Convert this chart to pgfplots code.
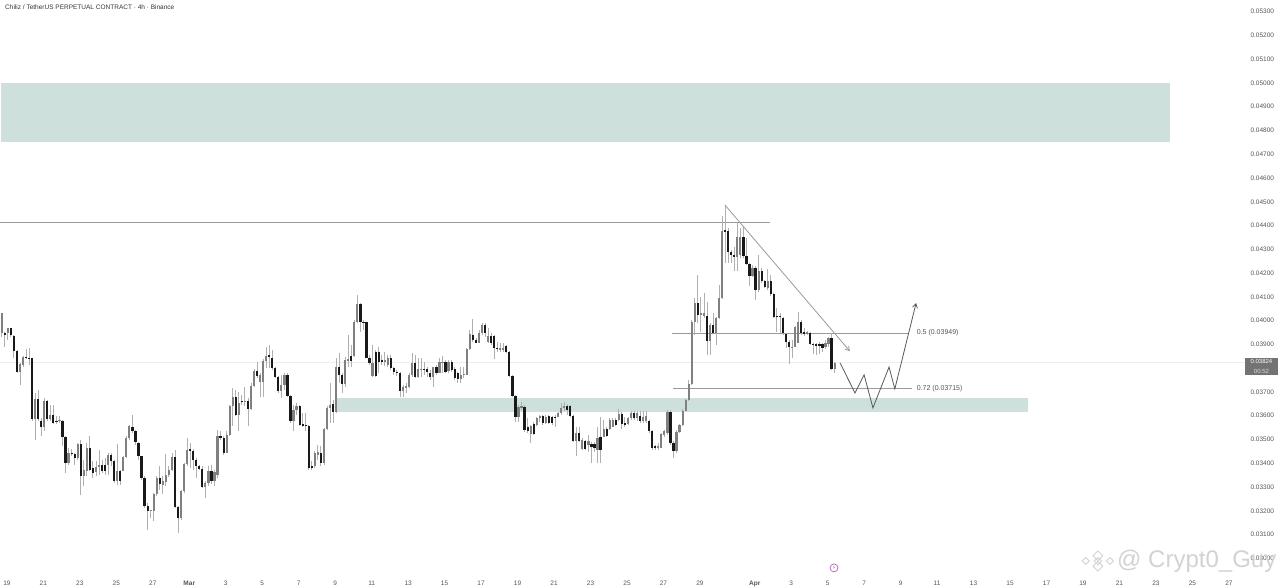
\documentclass[border=0pt]{standalone}
\usepackage{fontspec}
\setmainfont{Liberation Sans}
\newfontfamily\symf{DejaVu Sans}
\usepackage{pgfplots}
\usepackage{pgfplotstable}
\pgfplotsset{compat=1.18}
\usetikzlibrary{arrows.meta}
% candle index, body top, body bottom, high, low (prices x 100000)
\pgfplotstableread{
n t b h l
0 4031 3947 4031 3933
2 3968 3947 3971 3919
6 3818 3786 3821 3730
7 3849 3814 3852 3807
11 3671 3586 3695 3499
14 3660 3551 3674 3534
16 3604 3586 3646 3576
19 3583 3576 3600 3569
22 3443 3401 3464 3394
25 3481 3422 3485 3415
27 3373 3348 3415 3303
28 3464 3369 3485 3345
31 3383 3362 3408 3345
32 3394 3383 3454 3352
35 3436 3394 3443 3352
38 3366 3324 3481 3310
40 3425 3366 3429 3366
41 3506 3425 3513 3422
42 3555 3506 3562 3499
49 3202 3198 3205 3170
50 3272 3198 3275 3156
51 3338 3272 3345 3261
53 3324 3310 3345 3272
54 3349 3321 3439 3303
55 3373 3349 3387 3342
56 3425 3373 3443 3366
59 3285 3170 3289 3163
60 3397 3285 3401 3275
61 3457 3397 3506 3387
67 3317 3300 3324 3254
68 3366 3317 3387 3303
70 3362 3324 3373 3303
71 3513 3352 3541 3338
74 3517 3443 3534 3443
75 3639 3517 3646 3513
76 3681 3639 3716 3555
78 3653 3604 3702 3534
80 3664 3656 3723 3639
82 3727 3629 3737 3625
83 3790 3727 3796 3723
85 3772 3744 3779 3681
86 3832 3744 3838 3681
87 3853 3832 3891 3800
92 3730 3705 3772 3674
93 3772 3730 3779 3709
96 3625 3576 3646 3534
97 3639 3625 3653 3604
103 3443 3387 3450 3380
104 3446 3436 3478 3415
106 3544 3401 3548 3394
107 3632 3544 3639 3541
108 3646 3632 3737 3569
110 3807 3614 3842 3611
113 3835 3733 3849 3723
114 3839 3832 3940 3807
116 3993 3853 4003 3849
117 4070 3993 4108 3989
122 3821 3768 3898 3762
126 3835 3828 3870 3810
127 3842 3814 3856 3804
132 3723 3705 3730 3678
133 3726 3716 3737 3695
134 3772 3723 3779 3716
135 3824 3772 3866 3765
137 3797 3762 3842 3758
138 3797 3793 3842 3762
142 3804 3765 3807 3723
144 3828 3781 3842 3779
145 3828 3821 3852 3779
147 3825 3788 3835 3779
151 3772 3753 3807 3737
152 3776 3772 3807 3758
153 3880 3772 3884 3772
154 3944 3880 3961 3877
157 3950 3908 3961 3905
158 3982 3947 3989 3940
160 3936 3912 3968 3905
164 3884 3877 3905 3870
165 3887 3877 3905 3870
170 3638 3594 3645 3575
171 3641 3634 3659 3624
174 3557 3523 3561 3484
176 3589 3561 3596 3557
177 3599 3589 3603 3575
179 3596 3571 3603 3566
183 3610 3596 3617 3594
184 3634 3610 3652 3603
185 3641 3631 3659 3622
189 3529 3495 3554 3431
191 3498 3459 3505 3456
193 3495 3477 3519 3449
196 3505 3456 3554 3400
198 3543 3512 3582 3509
200 3582 3543 3589 3540
201 3582 3554 3589 3552
203 3608 3582 3627 3580
206 3589 3566 3596 3561
207 3613 3589 3622 3582
209 3611 3590 3618 3580
211 3594 3576 3618 3571
212 3597 3576 3618 3571
216 3471 3464 3485 3457
217 3522 3466 3529 3464
218 3534 3520 3541 3510
219 3615 3527 3625 3520
222 3531 3450 3538 3442
223 3562 3531 3566 3527
224 3622 3562 3628 3555
225 3667 3622 3670 3618
226 3734 3667 3751 3664
227 3993 3734 4003 3730
228 4073 3993 4094 3940
230 4031 4024 4101 3954
231 4031 4020 4115 4010
233 3982 3915 3989 3856
235 4013 3950 4017 3898
236 4094 4010 4150 4006
237 4379 4094 4441 4090
242 4351 4267 4413 4207
243 4354 4277 4389 4263
247 4223 4186 4235 4183
249 4207 4127 4277 4122
252 4165 4136 4216 4129
260 3891 3887 3919 3842
261 3972 3891 3978 3888
262 3996 3908 4038 3905
265 3951 3944 3958 3940
271 3905 3888 3919 3880
272 3926 3902 3933 3891
274 3824 3797 3828 3779
}\upcandles
\pgfplotstableread{
n t b h l
1 3950 3940 3954 3891
3 3968 3940 3971 3933
4 3937 3874 3940 3842
5 3874 3786 3877 3779
8 3849 3842 3880 3838
9 3845 3841 3884 3814
10 3842 3586 3842 3576
12 3671 3586 3709 3576
13 3580 3551 3590 3513
15 3660 3586 3667 3576
17 3604 3569 3646 3565
18 3580 3572 3597 3566
20 3579 3510 3583 3471
21 3510 3401 3513 3359
23 3443 3440 3460 3429
24 3440 3422 3443 3394
26 3481 3348 3499 3268
29 3464 3373 3516 3366
30 3380 3359 3408 3338
33 3394 3366 3415 3359
34 3394 3366 3422 3352
36 3436 3408 3443 3387
37 3411 3324 3415 3317
39 3366 3324 3373 3310
43 3551 3534 3604 3527
44 3534 3488 3541 3478
45 3485 3429 3488 3415
46 3429 3338 3432 3331
47 3338 3219 3345 3212
48 3222 3198 3233 3118
52 3338 3313 3387 3289
57 3425 3216 3454 3212
58 3216 3170 3222 3107
62 3460 3451 3485 3380
63 3451 3412 3460 3373
64 3412 3390 3422 3338
65 3390 3377 3394 3373
66 3377 3300 3387 3296
69 3366 3324 3394 3314
72 3513 3506 3534 3499
73 3506 3443 3513 3436
77 3681 3604 3709 3597
79 3663 3656 3688 3646
81 3664 3629 3674 3555
84 3790 3768 3828 3758
88 3856 3849 3898 3800
89 3845 3800 3877 3793
90 3800 3765 3807 3758
91 3765 3705 3768 3695
94 3772 3684 3779 3678
95 3684 3576 3688 3569
98 3639 3562 3646 3555
99 3565 3559 3611 3552
100 3562 3558 3611 3534
101 3558 3380 3562 3373
102 3387 3380 3408 3373
105 3443 3401 3471 3387
109 3649 3614 3667 3569
111 3807 3772 3863 3737
112 3772 3733 3779 3695
115 3853 3832 3898 3807
118 4070 3993 4073 3954
119 3996 3989 4003 3961
120 3993 3842 3996 3842
121 3842 3821 3856 3814
123 3870 3768 3877 3762
124 3870 3828 3891 3779
125 3835 3825 3856 3814
128 3842 3800 3856 3793
129 3800 3786 3807 3772
130 3786 3779 3793 3768
131 3779 3705 3782 3678
136 3824 3762 3856 3758
139 3796 3793 3828 3772
140 3796 3782 3807 3765
141 3779 3765 3793 3751
143 3804 3781 3814 3772
146 3828 3786 3835 3779
148 3825 3793 3835 3786
149 3795 3758 3807 3751
150 3779 3755 3786 3739
155 3940 3919 4006 3912
156 3919 3908 3926 3905
159 3982 3947 3989 3933
161 3936 3908 3947 3898
162 3936 3887 3940 3838
163 3887 3880 3912 3870
166 3894 3870 3898 3863
167 3870 3767 3874 3765
168 3767 3683 3772 3678
169 3683 3594 3687 3575
172 3638 3540 3645 3533
173 3554 3537 3589 3529
175 3566 3523 3575 3519
178 3599 3571 3603 3561
180 3599 3568 3603 3566
181 3596 3571 3599 3561
182 3596 3594 3603 3554
186 3641 3624 3650 3603
187 3641 3599 3645 3596
188 3599 3495 3603 3491
190 3529 3495 3554 3491
192 3495 3459 3498 3456
194 3481 3467 3491 3400
195 3481 3463 3491 3449
197 3509 3456 3594 3403
199 3543 3515 3554 3509
202 3582 3561 3589 3557
204 3608 3566 3617 3543
205 3568 3561 3596 3554
208 3611 3590 3621 3583
210 3597 3576 3622 3571
213 3576 3534 3583 3527
214 3534 3464 3538 3457
215 3471 3464 3478 3457
220 3615 3487 3625 3478
221 3487 3450 3492 3421
229 4073 4024 4192 3989
232 4021 3915 4080 3856
234 3982 3950 4031 3947
238 4382 4372 4487 4242
239 4379 4291 4389 4242
240 4291 4277 4298 4242
241 4277 4267 4312 4207
244 4351 4272 4396 4263
245 4272 4237 4347 4235
246 4237 4186 4242 4146
248 4223 4127 4230 4087
250 4207 4165 4221 4158
251 4165 4141 4172 4136
253 4165 4111 4193 4104
254 4111 4017 4115 4010
255 4020 4014 4052 3954
256 4020 4014 4031 3947
257 4013 3947 4017 3940
258 3944 3912 3950 3884
259 3912 3891 3919 3818
263 3996 3947 4003 3940
264 3954 3943 3968 3937
266 3950 3902 3954 3898
267 3902 3897 3908 3860
268 3901 3895 3908 3856
269 3901 3895 3912 3860
270 3901 3884 3908 3870
273 3926 3797 3950 3793
}\downcandles
\definecolor{band}{HTML}{CDE0DB}
\definecolor{wick}{HTML}{B0B0B0}
\definecolor{ln}{HTML}{9A9A9A}
\definecolor{txt}{HTML}{555555}
\definecolor{wm}{HTML}{D2D2D2}
\begin{document}
\begin{tikzpicture}
\path[use as bounding box] (0,0) rectangle (1280pt,588pt);
\begin{axis}[at={(0,0)},anchor=south west,scale only axis,width=1280pt,height=588pt,
  xmin=-0.56,xmax=420.5,ymin=2875.4,ymax=5349.1,
  axis line style={draw=none},major tick length=0pt,
  xtick={1.7,13.7,25.7,37.7,49.7,61.7,73.7,85.7,97.7,109.7,121.7,133.7,145.7,157.7,169.7,181.7,193.7,205.7,217.7,229.7,247.7,259.7,271.7,283.7,295.7,307.7,319.7,331.7,343.7,355.7,367.7,379.7,391.7,403.7},
  xticklabels={19,21,23,25,27,\textbf{Mar},3,5,7,9,11,13,15,17,19,21,23,25,27,29,\textbf{Apr},3,5,7,9,11,13,15,17,19,21,23,25,27},
  ytick={3000,3100,3200,3300,3400,3500,3600,3700,3800,3900,4000,4100,4200,4300,4400,4500,4600,4700,4800,4900,5000,5100,5200,5300},
  yticklabels={0.03000,0.03100,0.03200,0.03300,0.03400,0.03500,0.03600,0.03700,0.03800,0.03900,0.04000,0.04100,0.04200,0.04300,0.04400,0.04500,0.04600,0.04700,0.04800,0.04900,0.05000,0.05100,0.05200,0.05300},
  yticklabel pos=right,
  yticklabel style={font=\fontsize{6.5}{7}\selectfont,text=txt,anchor=west,xshift=-33pt},
  xticklabel style={font=\fontsize{6.5}{7}\selectfont,text=txt,yshift=11pt},
]
\addplot[fill=band,draw=none,forget plot] coordinates {(-0.23,5000)(384.3,5000)(384.3,4752)(-0.23,4752)} --cycle;
\addplot[fill=band,draw=none,forget plot] coordinates {(110,3673)(337.6,3673)(337.6,3616)(110,3616)} --cycle;
\addplot[color=black!7,line width=0.8pt,forget plot] coordinates {(-0.56,3824)(409,3824)};
\addplot[color=ln,line width=1pt,forget plot] coordinates {(-0.56,4411)(252.7,4411)};
\addplot[color=ln,line width=1pt,forget plot] coordinates {(220.5,3948)(298.4,3948)};
\addplot[color=ln,line width=1pt,forget plot] coordinates {(220.8,3715)(299.4,3715)};
% wicks and bodies
\addplot[draw=none,mark=none,forget plot,error bars/.cd,y dir=both,y explicit,error mark=none,error bar style={color=wick,line width=0.8pt}] table[x=n,y=t,y error plus expr=\thisrow{h}-\thisrow{t},y error minus expr=\thisrow{t}-\thisrow{l}] {\upcandles};
\addplot[draw=none,mark=none,forget plot,error bars/.cd,y dir=both,y explicit,error mark=none,error bar style={color=wick,line width=0.8pt}] table[x=n,y=t,y error plus expr=\thisrow{h}-\thisrow{t},y error minus expr=\thisrow{t}-\thisrow{l}] {\downcandles};
\addplot[draw=none,mark=none,forget plot,error bars/.cd,y dir=minus,y explicit,error mark=none,error bar style={color=black!50,line width=2.2pt}] table[x=n,y=t,y error minus expr=\thisrow{t}-\thisrow{b}] {\upcandles};
\addplot[draw=none,mark=none,forget plot,error bars/.cd,y dir=minus,y explicit,error mark=none,error bar style={color=black!90,line width=2.2pt}] table[x=n,y=t,y error minus expr=\thisrow{t}-\thisrow{b}] {\downcandles};
% drawn scenario
\addplot[color=ln,line width=0.8pt,-{Straight Barb[length=4pt,width=5pt]},forget plot] coordinates {(237.9,4487)(279,3872)};
\addplot[color=black!65,line width=0.8pt,-{Straight Barb[length=4pt,width=5pt]},forget plot] coordinates {(275.8,3822)(280.7,3696)(283.7,3772)(286.6,3633)(291.9,3805)(293.8,3713)(300.8,4074)};
% texts
\node[anchor=west,inner sep=0,font=\fontsize{7}{8}\selectfont,text=txt] at (axis cs:301,3949) {0.5 (0.03949)};
\node[anchor=west,inner sep=0,font=\fontsize{7}{8}\selectfont,text=txt] at (axis cs:301,3715) {0.72 (0.03715)};
\node[anchor=west,inner sep=0,font=\fontsize{6.5}{7}\selectfont,text=black!80] at (axis cs:1.1,5320) {Chiliz / TetherUS PERPETUAL CONTRACT · 4h · Binance};
\node[fill=black!55,minimum width=33pt,minimum height=17pt,inner sep=0] at (axis cs:414.4,3807) {};
\node[text=white,inner sep=0,font=\fontsize{6}{6}\selectfont] at (axis cs:414.4,3829) {0.03824};
\node[text=white!85!black,inner sep=0,font=\fontsize{6}{6}\selectfont] at (axis cs:414.4,3786) {00:52};
% marker and watermark
\node[circle,draw=violet!60,line width=0.7pt,minimum size=8pt,inner sep=0,text=violet!70,font=\symf\fontsize{5}{5}\selectfont] at (axis cs:273.8,2960) {⚡};
\node[anchor=west,inner sep=0,text=wm,font=\fontsize{24}{26}\selectfont] at (axis cs:366.9,2989) {@ Crypt0\_Guy};
\node[draw=wm,line width=0.9pt,rotate=45,minimum size=7pt,inner sep=0] at (axis cs:360.6,3011) {};
\node[draw=wm,line width=0.9pt,rotate=45,minimum size=7pt,inner sep=0] at (axis cs:360.6,2967) {};
\node[draw=wm,line width=0.9pt,rotate=45,minimum size=5pt,inner sep=0] at (axis cs:356.6,2989) {};
\node[draw=wm,line width=0.9pt,rotate=45,minimum size=5pt,inner sep=0] at (axis cs:364.6,2989) {};
\node[draw=wm,line width=0.9pt,rotate=45,minimum size=5pt,inner sep=0] at (axis cs:360.6,2989) {};
\end{axis}
\end{tikzpicture}
\end{document}
